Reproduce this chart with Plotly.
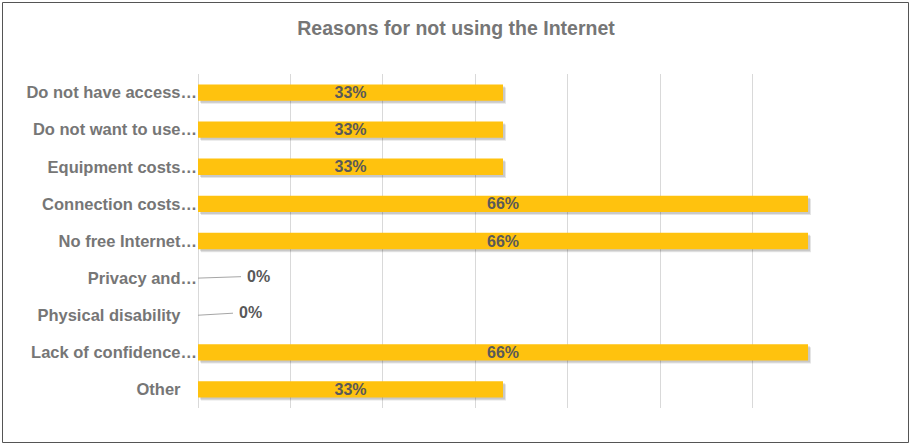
import plotly.graph_objects as go

categories = ["Do not have access…", "Do not want to use…", "Equipment costs…",
              "Connection costs…", "No free Internet…", "Privacy and…",
              "Physical disability", "Lack of confidence…", "Other"]
values = [33, 33, 33, 66, 66, 0, 0, 66, 33]
title = "Reasons for not using the Internet"

W, H = 912, 446
L, R, T, B = 198, 67, 74, 38
pw, ph = W - L - R, H - T - B
XMAX = 70
px = XMAX / pw          # data units per pixel on x
cat_px = ph / len(categories)

bar_w = 0.44
grey = "#767676"
lab = "#595959"
font = "Liberation Sans, Arial, sans-serif"

ticktext = [c if c.endswith("…") else c + '<span style="color:rgba(0,0,0,0)">…</span>' for c in categories]
texts = [f"{v}%" if v else "" for v in values]

fig = go.Figure()
# soft shadow
for k, a in [(3, 0.10), (2, 0.12)]:
    fig.add_trace(go.Bar(
        y=categories, x=values, base=[k * px] * len(values), orientation="h",
        width=bar_w, offset=-bar_w / 2 + k / cat_px,
        marker=dict(color=f"rgba(0,0,0,{a})", line=dict(width=0)),
        hoverinfo="skip", showlegend=False))
fig.add_trace(go.Bar(
    y=categories, x=values, orientation="h", width=bar_w,
    offset=-bar_w / 2,
    marker=dict(color="#FFC20E", line=dict(width=0)),
    text=texts, textposition="inside", insidetextanchor="middle",
    constraintext="none",
    textfont=dict(family=font, size=16, color=lab, weight="bold"),
    showlegend=False))

zero_offsets = {5: (60, -2), 6: (52, -3)}
for i, v in enumerate(values):
    if v == 0:
        ax, ay = zero_offsets.get(i, (55, -2))
        fig.add_annotation(x=0, y=categories[i], xref="x", yref="y",
                           text="0%", showarrow=True, arrowhead=0, arrowwidth=1,
                           arrowcolor="#a6a6a6", ax=ax, ay=ay, standoff=0,
                           borderpad=5,
                           font=dict(family=font, size=16, color=lab, weight="bold"))

fig.add_shape(type="rect", xref="paper", yref="paper",
              x0=-(L - 2.5) / pw, x1=1 + (R - 3.5) / pw,
              y0=-(B - 3.5) / ph, y1=1 + (T - 2.5) / ph,
              line=dict(color="#555555", width=1), fillcolor="rgba(0,0,0,0)", layer="below")

fig.update_layout(
    width=W, height=H, margin=dict(l=L, r=R, t=T, b=B),
    paper_bgcolor="white", plot_bgcolor="white", barmode="overlay",
    title=dict(text=title, x=0.5, xref="container", xanchor="center", y=1 - 28 / H, yanchor="middle",
               font=dict(family=font, size=19.5, color=grey, weight="bold")),
    xaxis=dict(range=[0, XMAX], dtick=10, showticklabels=False, showgrid=True,
               gridcolor="#d9d9d9", gridwidth=1, zeroline=True, zerolinecolor="#d9d9d9",
               zerolinewidth=1, showline=False, fixedrange=True),
    yaxis=dict(categoryorder="array", categoryarray=categories, autorange="reversed",
               tickmode="array", tickvals=categories, ticktext=ticktext,
               tickfont=dict(family=font, size=16.5, color=grey, weight="bold"),
               ticks="", ticklabelstandoff=0, showgrid=False, zeroline=False),
)
fig.write_html("out.html", config={"displayModeBar": False},
               post_script="document.body.style.margin='0';document.body.style.overflow='hidden';")
